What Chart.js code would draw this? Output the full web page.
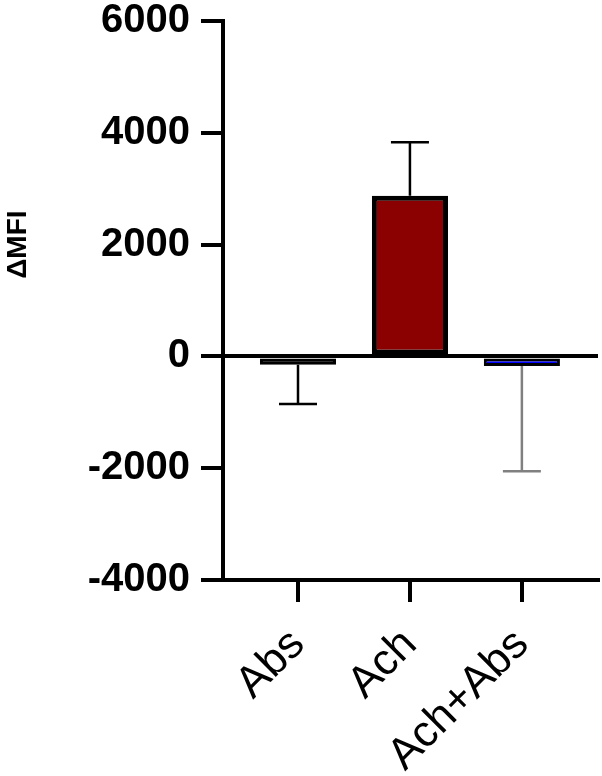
<!DOCTYPE html>
<html>
<head>
<meta charset="utf-8">
<script src="https://cdn.jsdelivr.net/npm/chart.js@4.4.1/dist/chart.umd.min.js"></script>
<style>
  html, body { margin: 0; padding: 0; background: #fff; }
</style>
</head>
<body>
<canvas id="grafico" width="602" height="776"></canvas>
<script>
// datos
const grupos = ['Abs', 'Ach', 'Ach+Abs'];
const medias = [-150, 2875, -170];
const errores = [700, 955, 1885];
const colores = ['#000000', '#8b0000', '#0000ff'];
const bordes = [3, 5, 3];
const coloresError = ['#000000', '#000000', '#808080'];
const ejeY = { min: -4000, max: 6000, paso: 2000 };

// barras de error de un solo lado (hacia fuera de la barra)
const barrasError = {
  id: 'barrasError',
  afterDatasetsDraw(chart) {
    const ctx = chart.ctx;
    const x = chart.scales.x, y = chart.scales.y;
    medias.forEach((m, i) => {
      const px = x.getPixelForValue(i + 1);
      const fin = m < 0 ? m - errores[i] : m + errores[i];
      const y0 = y.getPixelForValue(m);
      const y1 = y.getPixelForValue(fin);
      ctx.save();
      ctx.strokeStyle = coloresError[i];
      ctx.lineWidth = 2.5;
      ctx.beginPath();
      ctx.moveTo(px, y0);
      ctx.lineTo(px, y1);
      ctx.moveTo(px - 19, y1);
      ctx.lineTo(px + 19, y1);
      ctx.stroke();
      ctx.restore();
    });
  }
};

// titulo del eje Y
const tituloY = {
  id: 'tituloY',
  afterDraw(chart) {
    const ctx = chart.ctx;
    const y = chart.scales.y;
    ctx.save();
    ctx.translate(18, y.getPixelForValue(2000));
    ctx.rotate(-Math.PI / 2);
    ctx.font = 'bold 28px "Liberation Sans", Arial, sans-serif';
    ctx.textAlign = 'center';
    ctx.textBaseline = 'middle';
    ctx.fillStyle = '#000';
    ctx.fillText('ΔMFI', 0, 0);
    ctx.restore();
  }
};

new Chart(document.getElementById('grafico'), {
  type: 'bar',
  data: {
    datasets: [{
      data: medias.map((m, i) => ({ x: i + 1, y: m })),
      backgroundColor: colores,
      borderColor: '#000',
      borderWidth: bordes,
      borderSkipped: false,
      categoryPercentage: 1,
      barPercentage: 0.68
    }]
  },
  options: {
    responsive: false,
    devicePixelRatio: 1,
    animation: false,
    layout: { padding: { top: 0, right: 4, left: 0, bottom: 0 } },
    plugins: { legend: { display: false }, tooltip: { enabled: false } },
    scales: {
      x: {
        type: 'linear',
        offset: false,
        min: 0.33,
        max: 3.68,
        afterBuildTicks: s => { s.ticks = grupos.map((g, i) => ({ value: i + 1 })); },
        afterFit: s => { s.height = 196; },
        ticks: {
          callback: v => grupos[v - 1],
          minRotation: 45,
          maxRotation: 45,
          padding: 20,
          color: '#000',
          font: { family: '"Liberation Sans", Arial, sans-serif', size: 44, lineHeight: 1 }
        },
        grid: { offset: false, drawOnChartArea: false, color: '#000', tickLength: 22, lineWidth: 4 },
        border: { color: '#000', width: 4 }
      },
      y: {
        min: ejeY.min,
        max: ejeY.max,
        afterFit: s => { s.width = 223; },
        ticks: {
          stepSize: ejeY.paso,
          callback: v => String(v),
          padding: 11,
          color: '#000',
          font: { family: '"Liberation Sans", Arial, sans-serif', size: 40, weight: 'bold', lineHeight: 0.5 }
        },
        grid: {
          color: c => (c.tick && c.tick.value === 0) ? '#000' : 'rgba(0,0,0,0)',
          tickColor: '#000',
          tickLength: 22,
          lineWidth: 4
        },
        border: { color: '#000', width: 4 }
      }
    }
  },
  plugins: [barrasError, tituloY]
});
</script>
</body>
</html>
